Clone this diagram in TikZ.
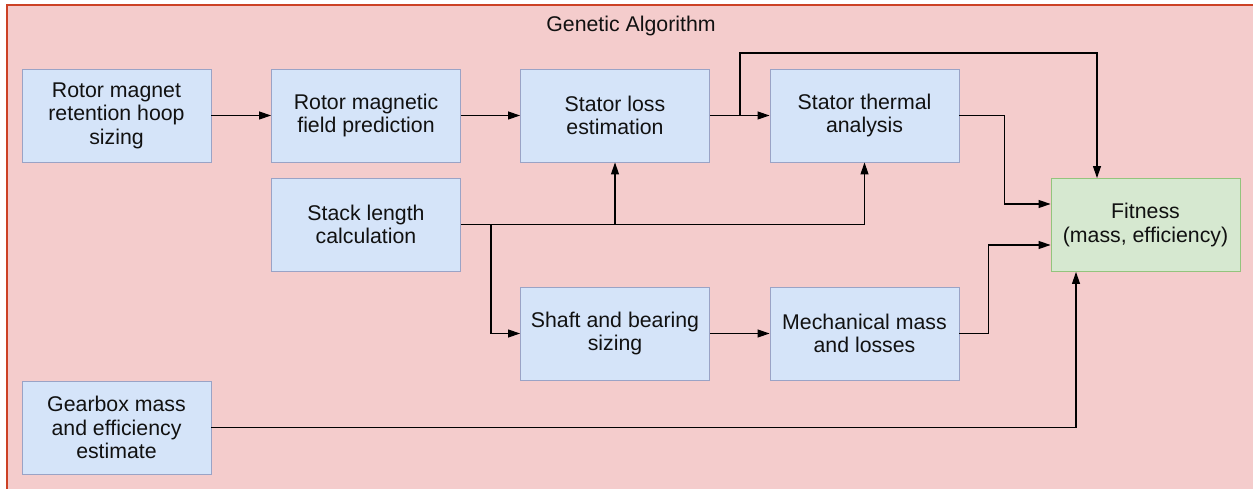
\documentclass[tikz,border=0pt]{standalone}
\usepackage{fontspec}
\setmainfont{Liberation Sans}
\usetikzlibrary{arrows.meta}
\definecolor{bgfill}{HTML}{F4CCCC}
\definecolor{bgline}{HTML}{CC4125}
\definecolor{boxfill}{HTML}{D5E4F9}
\definecolor{boxline}{HTML}{9AA3C6}
\definecolor{fitfill}{HTML}{D6E8D0}
\definecolor{fitline}{HTML}{93C47D}
\definecolor{txt}{HTML}{111111}
\begin{document}
\begin{tikzpicture}[x=1pt,y=-1pt,
  stepbox/.style={draw=boxline, fill=boxfill, line width=0.9pt, minimum width=189pt, minimum height=93pt, inner sep=0pt, align=center, text=txt, font=\fontsize{21.3}{23.5}\selectfont},
  fitbox/.style={stepbox, draw=fitline, fill=fitfill},
  arr/.style={draw=black, line width=1.1pt, -{Triangle[length=12pt,width=8pt]}}]
\useasboundingbox (0,0) rectangle (1253,489);
\fill[bgfill] (7,5) rectangle (1260,495);
\draw[bgline, line width=1.2pt] (1260,5) -- (7,5) -- (7,495);
\node[text=txt, font=\fontsize{21.3}{23.5}\selectfont] (title) at (631,26) {Genetic Algorithm};
\node[stepbox] (ret) at (116.5,115.5) {Rotor magnet\\retention hoop\\sizing};
\node[stepbox] (field) at (366,115.5) {Rotor magnetic\\field prediction};
\node[stepbox] (loss) at (615,115.5) {Stator loss\\estimation};
\node[stepbox] (therm) at (864.5,115.5) {Stator thermal\\analysis};
\node[stepbox] (stack) at (366,224.5) {Stack length\\calculation};
\node[fitbox] (fit) at (1145.5,225) {Fitness\\(mass, efficiency)};
\node[stepbox] (shaft) at (615,333.5) {Shaft and bearing\\sizing};
\node[stepbox] (mech) at (864.5,333.5) {Mechanical mass\\and losses};
\node[stepbox] (gear) at (116.5,427.5) {Gearbox mass\\and efficiency\\estimate};
\coordinate (b1) at (740,115.5);
\coordinate (t1) at (1097,53);
\coordinate (b2) at (491,224.5);
\draw[arr] (ret) -- (field);
\draw[arr] (field) -- (loss);
\draw[arr] (loss) -- (therm);
\draw[arr] (b1) |- (t1) -- (t1 |- fit.north);
\draw[arr] (therm.east) -- ++(45,0) |- ([yshift=21pt]fit.west);
\draw[arr] (stack.east) -| (therm.south);
\draw[arr] (stack.east -| loss.south) -- (loss.south);
\draw[arr] (b2) |- (shaft.west);
\draw[arr] (shaft) -- (mech);
\draw[arr] (mech.east) -- ++(29,0) |- ([yshift=-20pt]fit.west);
\draw[arr] (gear.east) -| ([xshift=-69.5pt]fit.south);
\end{tikzpicture}
\end{document}
